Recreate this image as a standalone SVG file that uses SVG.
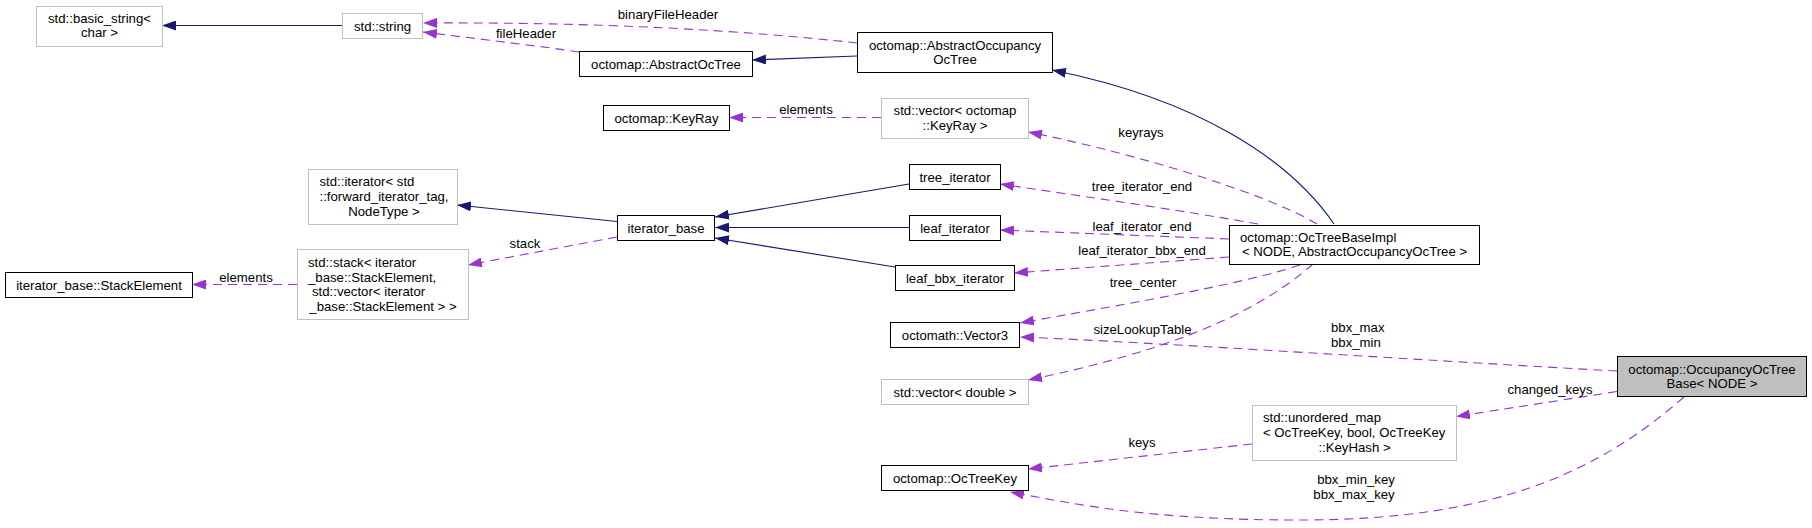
<svg xmlns="http://www.w3.org/2000/svg" width="1812" height="528" viewBox="0 0 1812 528">
<defs>
<style>
text{font-family:"Liberation Sans",Arial,Helvetica,sans-serif;font-size:13.2px;fill:#000}
.m{text-anchor:middle}
.nb{fill:#fff;stroke:#000;stroke-width:1}
.ng{fill:#fff;stroke:#bfbfbf;stroke-width:1}
.cur{fill:#bfbfbf;stroke:#000;stroke-width:1}
.inh{fill:none;stroke:#191970;stroke-width:1.1;marker-end:url(#aN)}
.use{fill:none;stroke:#9a32cd;stroke-width:1.1;stroke-dasharray:9,6;marker-end:url(#aP)}
</style>
<marker id="aN" viewBox="0 0 14 10" refX="14" refY="5" markerWidth="14" markerHeight="10" markerUnits="userSpaceOnUse" orient="auto"><path d="M0,0 L14,5 L0,10 z" fill="#191970"/></marker>
<marker id="aP" viewBox="0 0 14 10" refX="14" refY="5" markerWidth="14" markerHeight="10" markerUnits="userSpaceOnUse" orient="auto"><path d="M0,0 L14,5 L0,10 z" fill="#9a32cd"/></marker>
</defs>
<rect width="1812" height="528" fill="#fff"/>
<g id="connectors">
<path class="inh" d="M342,25.5 L162,25.5"/>
<path class="use" d="M857,43 C740,30 600,22 423,23"/>
<text class="m" x="668" y="18.5">binaryFileHeader</text>
<path class="use" d="M579,52 C540,46 470,38 423,32"/>
<text class="m" x="526" y="38">fileHeader</text>
<path class="inh" d="M857,56 L752,60"/>
<path class="inh" d="M1334,224 C1290,160 1200,100 1052,70"/>
<path class="use" d="M881,117.5 L729,117.5"/>
<text class="m" x="806" y="113.5">elements</text>
<path class="use" d="M1317,224 C1260,190 1120,150 1028,132"/>
<text class="m" x="1141" y="137">keyrays</text>
<path class="inh" d="M909,184 L715,217"/>
<path class="inh" d="M909,227.5 L715,227.5"/>
<path class="inh" d="M895,267 L715,238"/>
<path class="use" d="M1258,224 C1180,210 1080,196 1000,184"/>
<text class="m" x="1142" y="190.5">tree_iterator_end</text>
<path class="use" d="M1229,239 L1000,230"/>
<text class="m" x="1142" y="230.5">leaf_iterator_end</text>
<path class="use" d="M1229,257 L1014,273"/>
<text class="m" x="1142" y="254.5">leaf_iterator_bbx_end</text>
<path class="inh" d="M617,221.5 L457,205"/>
<path class="use" d="M617,237 L468,265"/>
<text class="m" x="525" y="247.5">stack</text>
<path class="use" d="M297,284.5 L192,284.5"/>
<text class="m" x="246" y="281.5">elements</text>
<path class="use" d="M1300,265 C1240,285 1120,305 1020,323"/>
<text class="m" x="1143" y="286.5">tree_center</text>
<path class="use" d="M1313,264 C1250,320 1150,355 1028,380"/>
<text class="m" x="1142.5" y="334">sizeLookupTable</text>
<path class="use" d="M1617,371 C1450,362 1150,342 1020,337"/>
<text x="1331" y="331.5">bbx_max</text>
<text x="1331" y="346.5">bbx_min</text>
<path class="use" d="M1617,391.5 L1456,416.5"/>
<text class="m" x="1550" y="394">changed_keys</text>
<path class="use" d="M1252,444 L1028,469"/>
<text class="m" x="1142" y="446.5">keys</text>
<path class="use" d="M1684,397 C1600,470 1500,520 1300,520 C1150,520 1080,505 1010,492"/>
<text class="m" x="1356" y="484">bbx_min_key</text>
<text class="m" x="1354" y="499">bbx_max_key</text>
</g>
<g id="n_basic_string"><rect class="ng" x="36.5" y="6.5" width="126" height="40"/><text class="m" x="99.5" y="23">std::basic_string&lt;</text><text class="m" x="99.5" y="37">char &gt;</text></g>
<g id="n_string"><rect class="ng" x="342.5" y="13.5" width="80" height="25"/><text class="m" x="382.5" y="30.5">std::string</text></g>
<g id="n_AbstractOcTree"><rect class="nb" x="579.5" y="51.5" width="173" height="25"/><text class="m" x="666" y="68.5">octomap::AbstractOcTree</text></g>
<g id="n_AbstractOccupancyOcTree"><rect class="nb" x="857.5" y="32.5" width="195" height="40"/><text class="m" x="955" y="50">octomap::AbstractOccupancy</text><text class="m" x="955" y="63.5">OcTree</text></g>
<g id="n_KeyRay"><rect class="nb" x="603.5" y="105.5" width="126" height="25"/><text class="m" x="666.5" y="122.5">octomap::KeyRay</text></g>
<g id="n_vector_KeyRay"><rect class="ng" x="881.5" y="98.5" width="147" height="40"/><text class="m" x="955" y="115">std::vector&lt; octomap</text><text class="m" x="955" y="130">::KeyRay &gt;</text></g>
<g id="n_std_iterator"><rect class="ng" x="308.5" y="169.5" width="149" height="55"/><text x="319.5" y="185.5">std::iterator&lt; std</text><text x="319.5" y="200.8">::forward_iterator_tag,</text><text class="m" x="384" y="215.8">NodeType &gt;</text></g>
<g id="n_iterator_base"><rect class="nb" x="617.5" y="215.5" width="97" height="25"/><text class="m" x="666" y="232.5">iterator_base</text></g>
<g id="n_tree_iterator"><rect class="nb" x="909.5" y="164.5" width="91" height="25"/><text class="m" x="955" y="181.5">tree_iterator</text></g>
<g id="n_leaf_iterator"><rect class="nb" x="909.5" y="215.5" width="91" height="25"/><text class="m" x="955" y="232.5">leaf_iterator</text></g>
<g id="n_leaf_bbx_iterator"><rect class="nb" x="895.5" y="265.5" width="119" height="25"/><text class="m" x="955" y="282.5">leaf_bbx_iterator</text></g>
<g id="n_stack"><rect class="ng" x="297.5" y="249.5" width="171" height="70"/><text x="308" y="266.5">std::stack&lt; iterator</text><text x="308" y="281.5">_base::StackElement,</text><text x="312" y="296">std::vector&lt; iterator</text><text class="m" x="383" y="310.5">_base::StackElement &gt; &gt;</text></g>
<g id="n_StackElement"><rect class="nb" x="5.5" y="272.5" width="187" height="25"/><text class="m" x="99" y="289.5">iterator_base::StackElement</text></g>
<g id="n_Vector3"><rect class="nb" x="890.5" y="322.5" width="129" height="25"/><text class="m" x="955" y="339.5">octomath::Vector3</text></g>
<g id="n_vector_double"><rect class="ng" x="881.5" y="379.5" width="147" height="25"/><text class="m" x="955" y="396.5">std::vector&lt; double &gt;</text></g>
<g id="n_OcTreeKey"><rect class="nb" x="881.5" y="465.5" width="147" height="25"/><text class="m" x="955" y="482.5">octomap::OcTreeKey</text></g>
<g id="n_OcTreeBaseImpl"><rect class="nb" x="1229.5" y="225.5" width="250" height="39"/><text x="1240" y="241.5">octomap::OcTreeBaseImpl</text><text class="m" x="1354.5" y="255.5">&lt; NODE, AbstractOccupancyOcTree &gt;</text></g>
<g id="n_unordered_map"><rect class="ng" x="1252.5" y="405.5" width="204" height="55"/><text x="1263" y="421.5">std::unordered_map</text><text x="1263" y="436.5">&lt; OcTreeKey, bool, OcTreeKey</text><text class="m" x="1354.5" y="451.5">::KeyHash &gt;</text></g>
<g id="n_OccupancyOcTreeBase"><rect class="cur" x="1617.5" y="356.5" width="189" height="40"/><text class="m" x="1712" y="373.8">octomap::OccupancyOcTree</text><text class="m" x="1712" y="387.5">Base&lt; NODE &gt;</text></g>
</svg>
